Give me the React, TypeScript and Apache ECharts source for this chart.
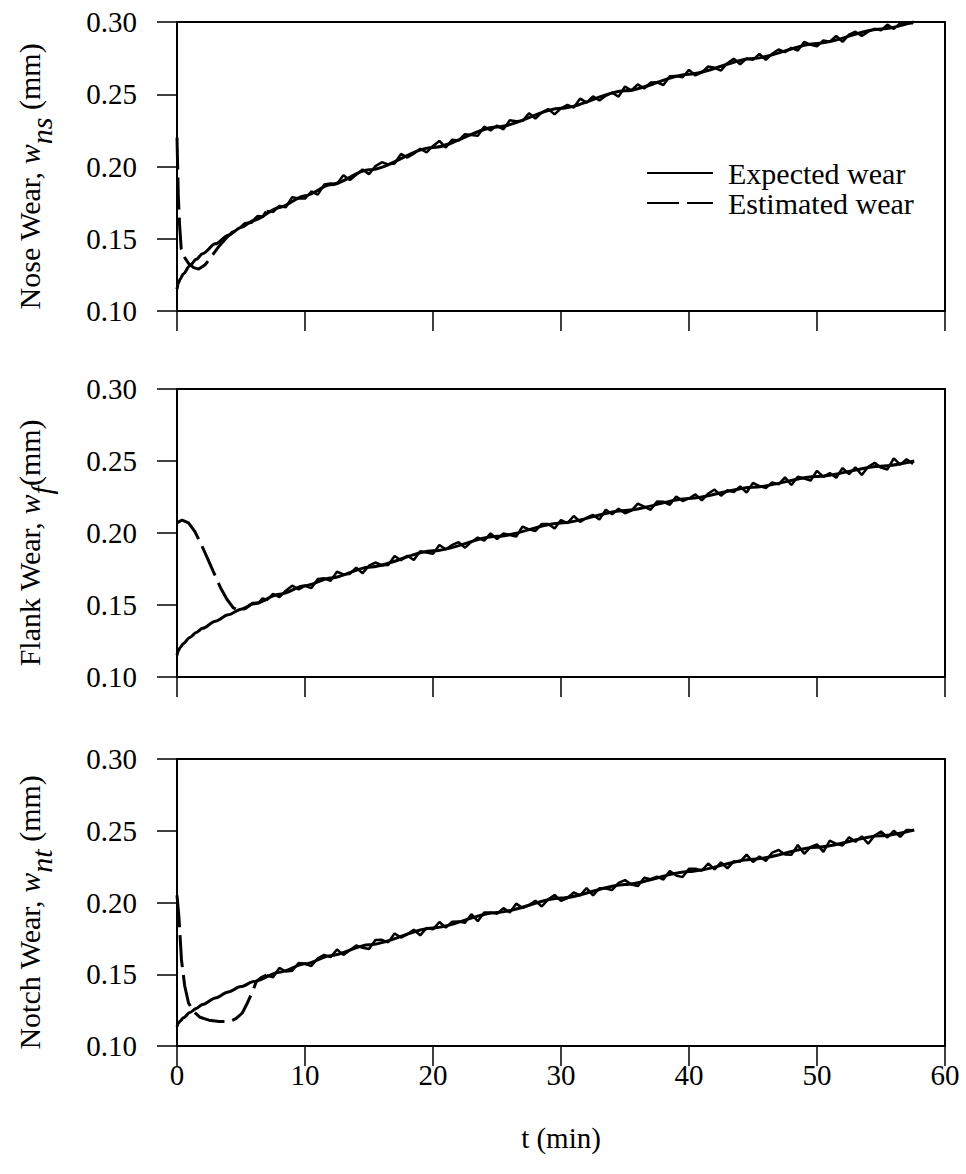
import React, { useEffect, useRef } from "react";
import * as echarts from "echarts";

const FONT = "Liberation Serif";
const FS = 29;
const TITLE_FS = 30;
const LEGEND_FS = 30;

const xTicks = [0, 10, 20, 30, 40, 50, 60];
const yTicks = [0.1, 0.15, 0.2, 0.25, 0.3];

// Expected wear (smooth curves) [t, w]
const noseExpected = [
  [0, 0.115], [0.1, 0.1191], [0.25, 0.1221], [0.5, 0.1257], [1, 0.1313], [1.5, 0.1358], [2, 0.1397],
  [3, 0.1465], [4, 0.1524], [5, 0.1578], [6, 0.1627], [8, 0.1717], [10, 0.1798], [12, 0.1873],
  [15, 0.1977], [20, 0.2132], [25, 0.2273], [30, 0.2403], [35, 0.2524], [40, 0.2639], [45, 0.2748],
  [50, 0.2852], [55, 0.2952], [57.6, 0.3003],
];
const flankExpected = [
  [0, 0.115], [0.1, 0.1182], [0.25, 0.1205], [0.5, 0.1233], [1, 0.1275], [1.5, 0.1309], [2, 0.1338],
  [3, 0.1388], [4, 0.1432], [5, 0.1471], [6, 0.1508], [8, 0.1574], [10, 0.1633], [12, 0.1688],
  [15, 0.1763], [20, 0.1876], [25, 0.1977], [30, 0.207], [35, 0.2157], [40, 0.224], [45, 0.2318],
  [50, 0.2392], [55, 0.2464], [57.6, 0.25],
];
const notchExpected = [
  [0, 0.1135], [0.1, 0.1157], [0.25, 0.1175], [0.5, 0.1197], [1, 0.1233], [1.5, 0.1262], [2, 0.1289],
  [3, 0.1335], [4, 0.1377], [5, 0.1414], [6, 0.1449], [8, 0.1514], [10, 0.1573], [12, 0.1629],
  [15, 0.1706], [20, 0.1823], [25, 0.1931], [30, 0.2031], [35, 0.2126], [40, 0.2216], [45, 0.2302],
  [50, 0.2385], [55, 0.2465], [57.6, 0.2505],
];

// Estimated wear, initial transient [t, w]
const noseEstimatedStart = [
  [0, 0.22], [0.1, 0.18], [0.2, 0.16], [0.33, 0.143], [0.6, 0.137], [0.9, 0.133], [1.3, 0.13],
  [1.7, 0.129], [2.2, 0.132], [2.8, 0.139], [3.3, 0.145], [3.8, 0.15], [4.3, 0.1545], [4.8, 0.1565],
  [5.3, 0.1605], [5.8, 0.1612], [6.3, 0.1655], [6.7, 0.1652], [7, 0.1693],
];
const flankEstimatedStart = [
  [0, 0.207], [0.4, 0.209], [0.9, 0.207], [1.4, 0.201], [1.9, 0.192], [2.4, 0.182], [2.9, 0.172],
  [3.4, 0.162], [3.9, 0.154], [4.4, 0.148], [4.9, 0.146], [5.4, 0.1478], [5.9, 0.1512], [6.4, 0.1515],
  [6.7, 0.1545], [7, 0.1532],
];
const notchEstimatedStart = [
  [0, 0.205], [0.15, 0.19], [0.35, 0.16], [0.6, 0.142], [0.9, 0.13], [1.3, 0.124], [1.8, 0.12],
  [2.5, 0.118], [3.3, 0.117], [4.1, 0.117], [4.6, 0.119], [5.1, 0.123], [5.5, 0.13], [5.9, 0.138],
  [6.2, 0.145], [6.6, 0.1478], [7, 0.1493],
];

// Estimated wear, noisy tracking phase
const tNoisy = [
  7, 7.5, 8, 8.5, 9, 9.5, 10, 10.5, 11, 11.5, 12, 12.5, 13, 13.5, 14, 14.5, 15, 15.5, 16, 16.5,
  17, 17.5, 18, 18.5, 19, 19.5, 20, 20.5, 21, 21.5, 22, 22.5, 23, 23.5, 24, 24.5, 25, 25.5, 26, 26.5,
  27, 27.5, 28, 28.5, 29, 29.5, 30, 30.5, 31, 31.5, 32, 32.5, 33, 33.5, 34, 34.5, 35, 35.5, 36, 36.5,
  37, 37.5, 38, 38.5, 39, 39.5, 40, 40.5, 41, 41.5, 42, 42.5, 43, 43.5, 44, 44.5, 45, 45.5, 46, 46.5,
  47, 47.5, 48, 48.5, 49, 49.5, 50, 50.5, 51, 51.5, 52, 52.5, 53, 53.5, 54, 54.5, 55, 55.5, 56, 56.5,
  57, 57.5,
];
const noseEstimatedNoisy = [
  0.1693, 0.1685, 0.1727, 0.1718, 0.1788, 0.1778, 0.1778, 0.1827, 0.1806, 0.1875,
  0.1883, 0.1881, 0.1939, 0.1906, 0.1943, 0.198, 0.1947, 0.2003, 0.2029, 0.2015,
  0.2021, 0.2087, 0.2062, 0.2088, 0.2123, 0.2098, 0.2142, 0.2177, 0.2131, 0.2186,
  0.218, 0.2224, 0.2218, 0.2212, 0.2276, 0.225, 0.2283, 0.2257, 0.232, 0.2313,
  0.2316, 0.2369, 0.2332, 0.2375, 0.2398, 0.2361, 0.2403, 0.2426, 0.2408, 0.247,
  0.2442, 0.2485, 0.2457, 0.2489, 0.2511, 0.2483, 0.2554, 0.2526, 0.2568, 0.254,
  0.2581, 0.2583, 0.2564, 0.2625, 0.2626, 0.2618, 0.2669, 0.263, 0.2651, 0.2692,
  0.2683, 0.2664, 0.2715, 0.2746, 0.2707, 0.2748, 0.2738, 0.2779, 0.2739, 0.278,
  0.281, 0.2791, 0.2821, 0.2802, 0.2862, 0.2842, 0.2832, 0.2873, 0.2863, 0.2903,
  0.2863, 0.2913, 0.2933, 0.2903, 0.2933, 0.2953, 0.2942, 0.2982, 0.2952, 0.2992,
  0.2992, 0.2991,
];
const flankEstimatedNoisy = [
  0.1532, 0.1578, 0.1554, 0.1599, 0.1634, 0.1609, 0.1633, 0.1617, 0.1681, 0.1685,
  0.1668, 0.1731, 0.1713, 0.1716, 0.1759, 0.1721, 0.1773, 0.1795, 0.1776, 0.1778,
  0.184, 0.1811, 0.1842, 0.1813, 0.1874, 0.1865, 0.1856, 0.1917, 0.1887, 0.1917,
  0.1937, 0.1898, 0.1938, 0.1968, 0.1947, 0.1997, 0.1957, 0.1997, 0.1986, 0.1976,
  0.2045, 0.2025, 0.2014, 0.2063, 0.2062, 0.2031, 0.209, 0.2069, 0.2118, 0.2077,
  0.2106, 0.2125, 0.2093, 0.2162, 0.213, 0.2169, 0.2137, 0.2156, 0.2204, 0.2183,
  0.2161, 0.2219, 0.2217, 0.2196, 0.2254, 0.2222, 0.224, 0.2268, 0.2226, 0.2274,
  0.2301, 0.2259, 0.2297, 0.2285, 0.2323, 0.2281, 0.2348, 0.2326, 0.2313, 0.2351,
  0.2338, 0.2386, 0.2333, 0.2391, 0.2378, 0.2365, 0.2432, 0.239, 0.2417, 0.2384,
  0.2451, 0.2409, 0.2456, 0.2403, 0.246, 0.2487, 0.2454, 0.2441, 0.2518, 0.2475,
  0.2512, 0.2479,
];
const notchEstimatedNoisy = [
  0.1493, 0.1479, 0.1544, 0.1519, 0.1524, 0.1579, 0.1573, 0.1557, 0.1611, 0.1635,
  0.1619, 0.1672, 0.1635, 0.1668, 0.1701, 0.1684, 0.1676, 0.1738, 0.174, 0.1722,
  0.1784, 0.1756, 0.1778, 0.181, 0.1771, 0.1822, 0.1813, 0.1864, 0.1825, 0.1866,
  0.1867, 0.1858, 0.1919, 0.187, 0.193, 0.1931, 0.1921, 0.1961, 0.1931, 0.1992,
  0.1962, 0.1982, 0.2012, 0.1972, 0.2022, 0.2052, 0.2011, 0.2031, 0.207, 0.205,
  0.21, 0.205, 0.2099, 0.2098, 0.2087, 0.2137, 0.2156, 0.2125, 0.2114, 0.2173,
  0.2162, 0.2181, 0.216, 0.2219, 0.2188, 0.2177, 0.2236, 0.2235, 0.2223, 0.2272,
  0.2231, 0.228, 0.2238, 0.2287, 0.2285, 0.2334, 0.2282, 0.2321, 0.2289, 0.2348,
  0.2366, 0.2334, 0.2332, 0.2401, 0.2339, 0.2387, 0.2405, 0.2353, 0.2431, 0.2409,
  0.2397, 0.2455, 0.2423, 0.2461, 0.2409, 0.2467, 0.2495, 0.2453, 0.25, 0.2458,
  0.2506, 0.2503,
];

const panelNames = [
  "{a|Nose Wear, }{i|w}{s|ns}{a| (mm)}",
  "{a|Flank Wear, }{i|w}{s|f}{a|(mm)}",
  "{a|Notch Wear, }{i|w}{s|nt}{a| (mm)}",
];

const LEGEND_EXPECTED = "Expected wear";
const LEGEND_ESTIMATED = "Estimated wear";

export default function App() {
  const ref = useRef<HTMLDivElement>(null);

  useEffect(() => {
    if (!ref.current) return;
    const chart = echarts.init(ref.current, null, { renderer: "svg" });

    const grids = [
      { left: 177, right: 21, top: 22, height: 289 },
      { left: 177, right: 21, top: 389, height: 288 },
      { left: 177, right: 21, top: 759, height: 287 },
    ].map((g) => ({ ...g, show: true, borderColor: "#000", borderWidth: 2, backgroundColor: "transparent" }));

    const xAxes = [0, 1, 2].map((i) => ({
      type: "value",
      gridIndex: i,
      min: xTicks[0],
      max: xTicks[xTicks.length - 1],
      interval: xTicks[1] - xTicks[0],
      axisLine: { show: true, lineStyle: { color: "#000", width: 2 } },
      axisTick: { show: true, length: 20, lineStyle: { color: "#000", width: 1.5 } },
      axisLabel: { show: i === 2, fontSize: FS, fontFamily: FONT, color: "#000", margin: 14 },
      splitLine: { show: false },
      name: i === 2 ? "t (min)" : "",
      nameLocation: "middle",
      nameGap: 77,
      nameTextStyle: { fontSize: FS, fontFamily: FONT, color: "#000" },
    }));

    const rich = {
      a: { fontSize: TITLE_FS, fontFamily: FONT, color: "#000" },
      i: { fontSize: TITLE_FS, fontFamily: FONT, color: "#000", fontStyle: "italic" },
      s: { fontSize: TITLE_FS, fontFamily: FONT, color: "#000", fontStyle: "italic", padding: [24, 0, 0, 0] },
    };

    const yAxes = [0, 1, 2].map((i) => ({
      type: "value",
      gridIndex: i,
      min: yTicks[0],
      max: yTicks[yTicks.length - 1],
      interval: 0.05,
      axisLine: { show: true, lineStyle: { color: "#000", width: 2 } },
      axisTick: { show: true, length: 20, lineStyle: { color: "#000", width: 1.5 } },
      axisLabel: {
        fontSize: FS,
        fontFamily: FONT,
        color: "#000",
        margin: 40,
        formatter: (v: number) => v.toFixed(2),
      },
      splitLine: { show: false },
      name: panelNames[i],
      nameLocation: "middle",
      nameRotate: 90,
      nameGap: 121,
      nameTextStyle: { rich, padding: [0, 20, 0, 0] },
    }));

    const expectedSets = [noseExpected, flankExpected, notchExpected];
    const startSets = [noseEstimatedStart, flankEstimatedStart, notchEstimatedStart];
    const noisySets = [noseEstimatedNoisy, flankEstimatedNoisy, notchEstimatedNoisy];

    const series: any[] = [];
    // dashed transient first so the legend takes its style from it
    for (let i = 0; i < 3; i++) {
      series.push({
        name: LEGEND_ESTIMATED,
        type: "line",
        xAxisIndex: i,
        yAxisIndex: i,
        data: startSets[i],
        symbol: "none",
        lineStyle: { color: "#000", width: 3, type: [32, 8] },
        itemStyle: { color: "#000" },
        z: 4,
      });
    }
    for (let i = 0; i < 3; i++) {
      series.push({
        name: LEGEND_EXPECTED,
        type: "line",
        xAxisIndex: i,
        yAxisIndex: i,
        data: expectedSets[i],
        symbol: "none",
        smooth: 0.3,
        smoothMonotone: "x",
        lineStyle: { color: "#000", width: 3, type: "solid" },
        itemStyle: { color: "#000" },
        z: 3,
      });
      series.push({
        name: LEGEND_ESTIMATED,
        type: "line",
        xAxisIndex: i,
        yAxisIndex: i,
        data: tNoisy.map((t, k) => [t, noisySets[i][k]]),
        symbol: "none",
        lineStyle: { color: "#000", width: 2.5, type: "solid" },
        itemStyle: { color: "#000" },
        z: 4,
      });
    }

    chart.setOption({
      animation: false,
      backgroundColor: "#fff",
      grid: grids,
      xAxis: xAxes,
      yAxis: yAxes,
      legend: {
        data: [LEGEND_EXPECTED, LEGEND_ESTIMATED],
        orient: "vertical",
        left: 641,
        top: 153,
        itemWidth: 66,
        itemHeight: 14,
        itemGap: 0,
        selectedMode: false,
        itemStyle: { color: "transparent", borderWidth: 0, opacity: 0 },
        textStyle: {
          fontSize: LEGEND_FS,
          fontFamily: FONT,
          color: "#000",
          padding: [0, 0, 0, 10],
        },
      },
      series,
    });

    return () => chart.dispose();
  }, []);

  return (
    <div
      ref={ref}
      style={{ position: "fixed", left: 0, top: 0, width: 966, height: 1174, background: "#fff" }}
    />
  );
}
